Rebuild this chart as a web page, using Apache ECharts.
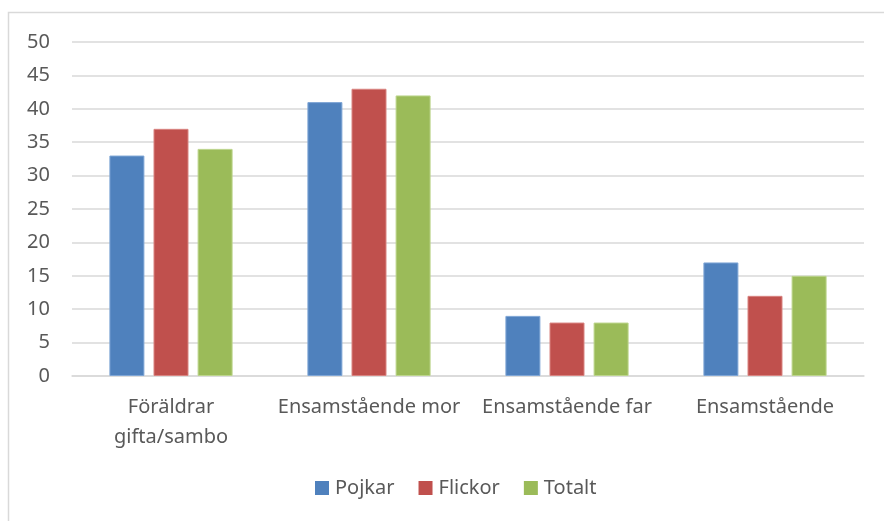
<!DOCTYPE html>
<html>
<head>
<meta charset="utf-8">
<script src="https://cdn.jsdelivr.net/npm/echarts@6/dist/echarts.min.js"></script>
<style>
  html, body { margin: 0; padding: 0; background: #fff; }
  #box01 { width: 884px; height: 521px; }
</style>
</head>
<body>
<div id="box01"></div>
<script>
var categories = ['Föräldrar\ngifta/sambo', 'Ensamstående mor', 'Ensamstående far', 'Ensamstående'];
var pojkar = [33, 41, 9, 17];
var flickor = [37, 43, 8, 12];
var totalt = [34, 42, 8, 15];

var myChart = echarts.init(document.getElementById('box01'));
var textColor = '#595959';
var fontFamily = '"Noto Sans", sans-serif';

var option = {
    animation: false,
    textStyle: { fontFamily: fontFamily },
    graphic: [
        {
            type: 'rect',
            shape: { x: 8.5, y: 12.5, width: 900, height: 600 },
            style: { fill: 'none', stroke: '#d9d9d9', lineWidth: 1.5 }
        }
    ],
    grid: { left: 72, right: 20, top: 42, bottom: 145 },
    legend: {
        data: ['Pojkar', 'Flickor', 'Totalt'],
        bottom: 23,
        left: 315,
        padding: 0,
        icon: 'rect',
        itemWidth: 14,
        itemHeight: 14,
        itemGap: 24,
        itemStyle: { borderWidth: 0 },
        textStyle: { color: textColor, fontSize: 20, fontFamily: fontFamily, padding: [0, 0, 0, 1] }
    },
    xAxis: {
        type: 'category',
        data: categories,
        axisLine: { lineStyle: { color: '#d9d9d9', width: 1.5 } },
        axisTick: { show: false },
        axisLabel: { color: textColor, fontSize: 20, lineHeight: 30, margin: 16, interval: 0 }
    },
    yAxis: {
        type: 'value',
        min: 0,
        max: 50,
        interval: 5,
        axisLine: { show: false },
        axisTick: { show: false },
        splitLine: { lineStyle: { color: '#d9d9d9', width: 1.5 } },
        axisLabel: { color: textColor, fontSize: 20, margin: 22 }
    },
    series: [
        { name: 'Pojkar', type: 'bar', data: pojkar, barWidth: 35, barGap: '26%',
          itemStyle: { color: '#4f81bd', borderColor: '#7fa6d6', borderWidth: 1 } },
        { name: 'Flickor', type: 'bar', data: flickor, barWidth: 35, barGap: '26%',
          itemStyle: { color: '#c0504d', borderColor: '#d98481', borderWidth: 1 } },
        { name: 'Totalt', type: 'bar', data: totalt, barWidth: 35, barGap: '26%',
          itemStyle: { color: '#9bbb59', borderColor: '#bcd58c', borderWidth: 1 } }
    ]
};
myChart.setOption(option);
</script>
</body>
</html>
